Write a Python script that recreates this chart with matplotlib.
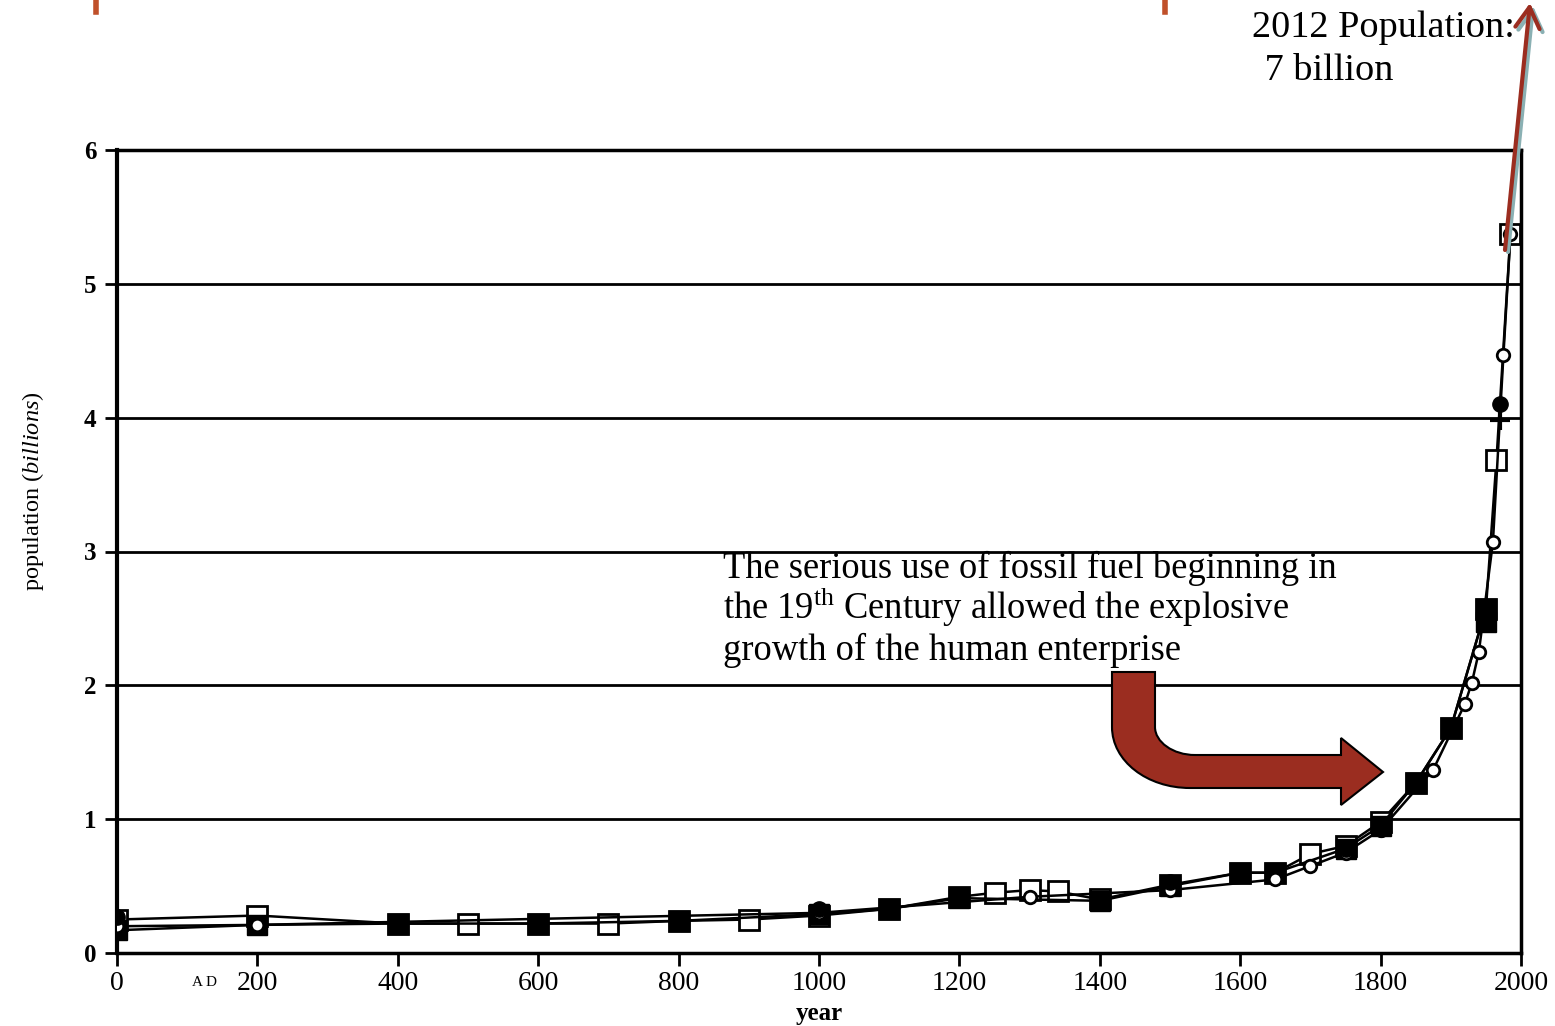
import numpy as np
import matplotlib.pyplot as plt
from matplotlib.path import Path
from matplotlib.patches import PathPatch, FancyArrowPatch
from matplotlib.lines import Line2D

# --- data (world population, billions) ---
years_open_sq = [0, 200, 400, 500, 600, 700, 800, 900, 1000, 1100, 1200, 1250, 1300,
                 1340, 1400, 1500, 1600, 1650, 1700, 1750, 1800, 1850, 1900, 1950, 1965, 1985]
pop_open_sq = [0.25, 0.28, 0.22, 0.22, 0.22, 0.22, 0.24, 0.25, 0.28, 0.33, 0.42, 0.45, 0.47,
               0.46, 0.40, 0.51, 0.60, 0.60, 0.74, 0.80, 0.98, 1.27, 1.68, 2.57, 3.68, 5.37]

years_filled_sq = [0, 200, 400, 600, 800, 1000, 1100, 1200, 1400, 1500, 1600, 1650,
                   1750, 1800, 1850, 1900, 1950, 1950]
pop_filled_sq = [0.17, 0.21, 0.22, 0.22, 0.24, 0.29, 0.33, 0.41, 0.39, 0.50, 0.60, 0.60,
                 0.78, 0.95, 1.27, 1.68, 2.57, 2.47]

years_circle = [0, 200, 1000, 1300, 1500, 1650, 1700, 1750, 1800, 1875, 1920, 1930,
                1940, 1960, 1975, 1985]
pop_circle = [0.20, 0.21, 0.30, 0.42, 0.47, 0.55, 0.65, 0.75, 0.92, 1.37, 1.86, 2.02,
              2.25, 3.07, 4.47, 5.37]

years_dot = [0, 1000, 1500, 1750, 1800, 1970]
pop_dot = [0.27, 0.33, 0.53, 0.78, 0.93, 4.10]

years_plus = [1970]
pop_plus = [3.98]

x_ticks = [0, 200, 400, 600, 800, 1000, 1200, 1400, 1600, 1800, 2000]
y_ticks = [0, 1, 2, 3, 4, 5, 6]

note_lines = ['The serious use of fossil fuel beginning in',
              'the 19$^{\\rm th}$ Century allowed the explosive',
              'growth of the human enterprise']
pop_2012 = ['2012 Population:', ' 7 billion']

plt.rcParams['mathtext.fontset'] = 'custom'
plt.rcParams['mathtext.rm'] = 'Liberation Serif'
plt.rcParams['mathtext.it'] = 'Liberation Serif:italic'
plt.rcParams['font.family'] = ['Liberation Serif', 'DejaVu Serif']

W, H = 1555, 1026
RED = '#9B2D20'


def px(x, y):
    # pixel position (origin top-left) -> figure fraction
    return x / W, 1 - y / H


fig = plt.figure(figsize=(W / 100, H / 100), dpi=100)
ax = fig.add_axes([117 / W, 73 / H, 1404 / W, 803 / H])

# series (filled squares sit on top of the open ones where both exist)
ax.plot(years_open_sq, pop_open_sq, '-', color='black', lw=1.8, marker='s',
        ms=14, mfc='white', mec='black', mew=2, zorder=3)
ax.plot(years_filled_sq, pop_filled_sq, '-', color='black', lw=1.8, marker='s',
        ms=14, mfc='black', mec='black', zorder=4)
ax.plot(years_circle, pop_circle, '-', color='black', lw=1.8, marker='o',
        ms=9, mfc='white', mec='black', mew=2, zorder=5)
ax.plot(years_dot, pop_dot, 'o', ms=11, color='black', zorder=6)
ax.plot(years_plus, pop_plus, '+', ms=14, mew=3, color='black', zorder=6)

ax.set_xlim(0, 2000)
ax.set_ylim(0, 6)
ax.set_xticks(x_ticks)
ax.set_yticks(y_ticks)
ax.grid(axis='y', color='black', lw=2)
ax.set_axisbelow(True)
for s in ax.spines.values():
    s.set_linewidth(2.5)
    s.set_color('black')
ax.spines['left'].set_linewidth(3)

ax.tick_params(axis='x', direction='out', length=9, width=2, labelsize=20, pad=4)
ax.tick_params(axis='y', direction='out', length=9, width=2, labelsize=18, pad=6)
for lab in ax.get_yticklabels():
    lab.set_fontweight('bold')

ax.text(125, -0.22, 'A D', fontsize=11, ha='center', va='center', transform=ax.transData)
ax.set_xlabel('year', fontsize=18, fontweight='bold', labelpad=4)
fig.text(33 / W, 1 - 491 / H, 'population $\\it{(billions)}$', rotation=90,
         fontsize=17.5, ha='center', va='center')

# annotation text
for line, base in zip(note_lines, [578, 619, 660]):
    fig.text(*px(723, base), line, fontsize=26.3, va='baseline', ha='left')
fig.text(*px(1252, 37), pop_2012[0], fontsize=27.5, va='baseline', ha='left')
fig.text(*px(1255, 80), pop_2012[1], fontsize=27.5, va='baseline', ha='left')

# bent arrow
verts = [(1112, 672), (1155, 672), (1155, 727),
         (1155, 742), (1173, 755), (1195, 755),
         (1341, 755), (1341, 738), (1383, 772), (1341, 805), (1341, 788),
         (1190, 788),
         (1147, 788), (1112, 761), (1112, 727),
         (1112, 672)]
codes = [Path.MOVETO, Path.LINETO, Path.LINETO,
         Path.CURVE4, Path.CURVE4, Path.CURVE4,
         Path.LINETO, Path.LINETO, Path.LINETO, Path.LINETO, Path.LINETO,
         Path.LINETO,
         Path.CURVE4, Path.CURVE4, Path.CURVE4,
         Path.CLOSEPOLY]
bent = Path([px(x, y) for x, y in verts], codes)
fig.add_artist(PathPatch(bent, transform=fig.transFigure, facecolor=RED,
                         edgecolor='black', lw=1.5, zorder=10))

# arrow up to the 2012 value
fig.add_artist(FancyArrowPatch(px(1508, 252), px(1533, 6), transform=fig.transFigure,
                               arrowstyle='->,head_length=0.6,head_width=0.35',
                               mutation_scale=25, color='#8AB0B3', lw=3,
                               shrinkA=0, shrinkB=0, zorder=9))
fig.add_artist(FancyArrowPatch(px(1505, 250), px(1530, 3), transform=fig.transFigure,
                               arrowstyle='->,head_length=0.6,head_width=0.35',
                               mutation_scale=25, color=RED, lw=3,
                               shrinkA=0, shrinkB=0, zorder=10))

# bits of the cut-off title at the top edge
for xm in [96, 1165]:
    fig.add_artist(Line2D([xm / W, xm / W], [1, 1 - 12 / H], transform=fig.transFigure,
                          color='#C0502A', lw=4))

fig.savefig('out.png', dpi=100)
